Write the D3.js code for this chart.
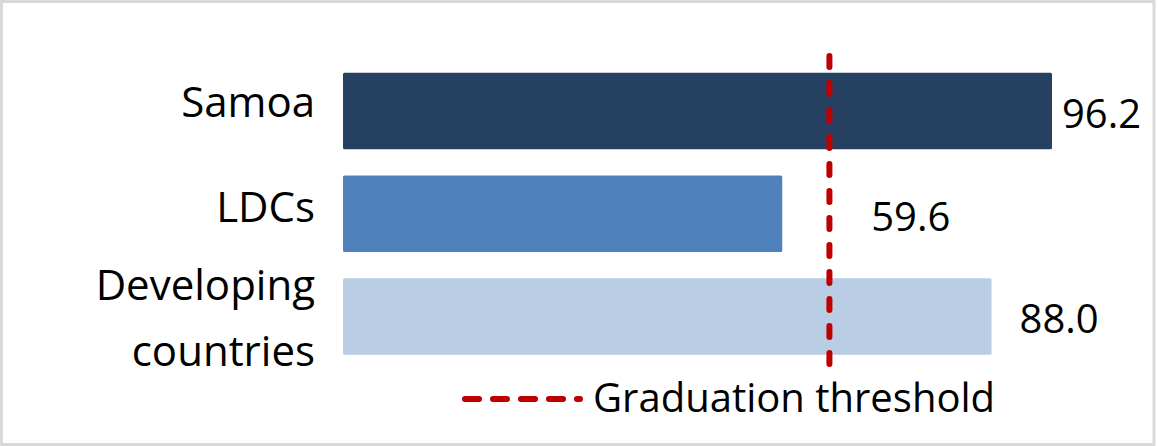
<!DOCTYPE html>
<html>
<head>
<meta charset="utf-8">
<script src="https://cdn.jsdelivr.net/npm/d3@7/dist/d3.min.js"></script>
<style>
  html, body { margin: 0; padding: 0; background: #fff; }
  svg { display: block; }
  text { font-family: "Open Sans", "Noto Sans", sans-serif; fill: #000; }
</style>
</head>
<body>
<svg id="chart" width="1158" height="446"></svg>
<script>
// ---- data ----
const categories = ["Samoa", "LDCs", "Developing countries"];
const categoryLines = [["Samoa"], ["LDCs"], ["Developing", "countries"]];
const values = [96.2, 59.6, 88.0];
const valueLabels = ["96.2", "59.6", "88.0"];
const threshold = 66;
const legendLabel = "Graduation threshold";

// ---- styles ----
const barColors = ["#264061", "#4f81bd", "#b9cde5"];
const labelDx = [10, 89, 28];
const red = "#c00000";

const svg = d3.select("#chart");
const W = 1158, H = 446;

// frame
svg.append("rect")
  .attr("x", 1.5).attr("y", 1.5)
  .attr("width", 1152.5).attr("height", 443)
  .attr("fill", "#fff")
  .attr("stroke", "#d9d9d9")
  .attr("stroke-width", 3);

const x = d3.scaleLinear().domain([0, 100]).range([343, 1080]);
const y = d3.scaleBand().domain(categories).range([59.6, 367.8])
  .paddingInner(0.255).paddingOuter(0.1275);

// bars
svg.append("g").selectAll("rect")
  .data(categories)
  .join("rect")
  .attr("x", x(0))
  .attr("y", d => y(d))
  .attr("width", (d, i) => x(values[i]) - x(0))
  .attr("height", y.bandwidth())
  .attr("rx", 1.5)
  .attr("fill", (d, i) => barColors[i]);

// category labels
const catG = svg.append("g");
categories.forEach((c, i) => {
  const lines = categoryLines[i];
  const cy = y(c) + y.bandwidth() / 2;
  const t = catG.append("text")
    .attr("text-anchor", "end")
    .attr("font-size", 42)
    .attr("x", 315);
  if (lines.length === 1) {
    t.attr("y", cy + (i === 0 ? 6 : 8)).text(lines[0]);
  } else {
    t.append("tspan").attr("x", 315).attr("y", cy - 16).text(lines[0]);
    t.append("tspan").attr("x", 315).attr("y", cy + 50).text(lines[1]);
  }
});

// value labels
svg.append("g").selectAll("text")
  .data(categories)
  .join("text")
  .attr("x", (d, i) => x(values[i]) + labelDx[i])
  .attr("y", d => y(d) + y.bandwidth() / 2 + 17)
  .attr("font-size", 40)
  .text((d, i) => valueLabels[i]);

// threshold line
svg.append("line")
  .attr("x1", x(threshold)).attr("x2", x(threshold))
  .attr("y1", 56).attr("y2", 370)
  .attr("stroke", red)
  .attr("stroke-width", 6)
  .attr("stroke-linecap", "round")
  .attr("stroke-dasharray", "11 16");

// legend
svg.append("line")
  .attr("x1", 465).attr("x2", 580)
  .attr("y1", 399).attr("y2", 399)
  .attr("stroke", red)
  .attr("stroke-width", 6)
  .attr("stroke-linecap", "round")
  .attr("stroke-dasharray", "14 14");
svg.append("text")
  .attr("x", 593).attr("y", 412)
  .attr("font-size", 40)
  .text(legendLabel);
</script>
</body>
</html>
